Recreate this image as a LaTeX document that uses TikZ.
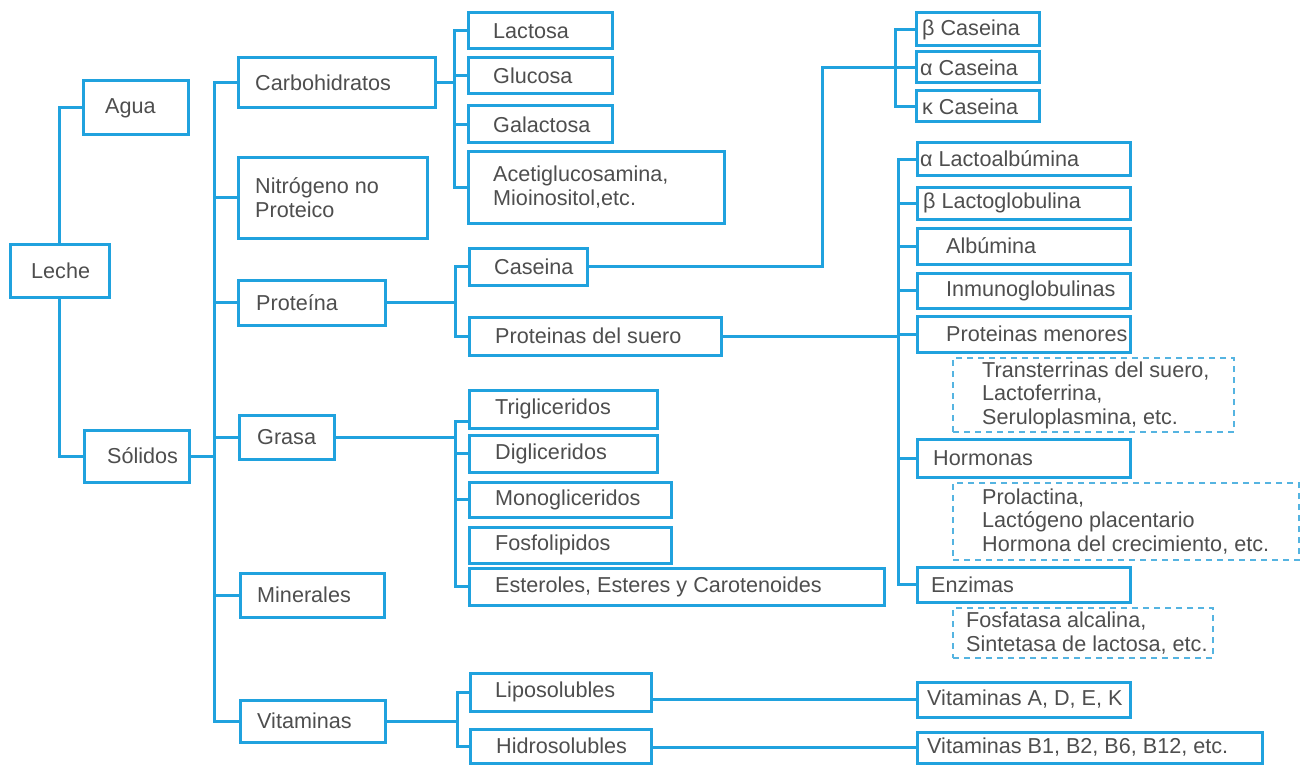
\documentclass[tikz,border=0pt]{standalone}
\usepackage{fontspec}
\setmainfont{Liberation Sans}
\definecolor{lineblue}{RGB}{32,162,222}
\definecolor{dashblue}{RGB}{85,180,225}
\definecolor{txtgray}{RGB}{78,78,78}
\newcommand\mkbox[8]{%
  \pgfmathsetmacro\mkW{#5-#3}\pgfmathsetmacro\mkH{#6-#4}%
  \node[#2, minimum width=\mkW pt, minimum height=\mkH pt, anchor=north west] (#1) at (#3,#4) {};
  \node[txt, anchor=west] (#1-t) at ([xshift=#7pt]#1.west) {#8};}
\begin{document}
\begin{tikzpicture}[x=1pt,y=-1pt,
  box/.style={draw=lineblue, line width=3pt, rectangle, inner sep=0pt, outer sep=0pt},
  dbox/.style={draw=dashblue, line width=2.2pt, dash pattern=on 6pt off 5pt, rectangle, inner sep=0pt, outer sep=0pt},
  txt/.style={text=txtgray, font=\fontsize{21.6}{23.5}\selectfont, align=left, inner sep=0pt},
  conn/.style={draw=lineblue, line width=3pt}]
\useasboundingbox (0,0) rectangle (1306,765);
\fill[white] (0,0) rectangle (1306,765);

\mkbox{leche}{box}{10}{244}{109}{297}{21}{Leche}
\mkbox{agua}{box}{83}{81}{188}{135}{22}{Agua}
\mkbox{sol}{box}{84}{430}{189}{482}{23}{Sólidos}
\mkbox{carb}{box}{238}{58}{435}{108}{17}{Carbohidratos}
\mkbox{nit}{box}{238}{157}{427}{238}{17}{Nitrógeno no\\Proteico}
\mkbox{prot}{box}{238}{280}{385}{325}{18}{Proteína}
\mkbox{gra}{box}{239}{415}{334}{459}{18}{Grasa}
\mkbox{min}{box}{240}{573}{384}{617}{17}{Minerales}
\mkbox{vit}{box}{240}{700}{385}{742}{17}{Vitaminas}
\mkbox{lac}{box}{468}{13}{612}{49}{25}{Lactosa}
\mkbox{glu}{box}{468}{58}{612}{94}{25}{Glucosa}
\mkbox{gal}{box}{468}{106}{612}{143}{25}{Galactosa}
\mkbox{ace}{box}{468}{151}{724}{223}{25}{Acetiglucosamina,\\Mioinositol,etc.}
\mkbox{cas}{box}{469}{248}{587}{285}{25}{Caseina}
\mkbox{sue}{box}{469}{317}{721}{355}{26}{Proteinas del suero}
\mkbox{tri}{box}{469}{390}{657}{428}{26}{Trigliceridos}
\mkbox{dig}{box}{469}{435}{657}{472}{26}{Digliceridos}
\mkbox{mon}{box}{469}{482}{671}{517}{26}{Monogliceridos}
\mkbox{fos}{box}{469}{527}{671}{563}{26}{Fosfolipidos}
\mkbox{est}{box}{469}{568}{884}{605}{26}{Esteroles, Esteres y Carotenoides}
\mkbox{lip}{box}{470}{673}{651}{711}{25}{Liposolubles}
\mkbox{hid}{box}{470}{729}{651}{763}{26}{Hidrosolubles}
\mkbox{bcas}{box}{916}{13}{1039}{46}{6}{β Caseina}
\mkbox{acas}{box}{916}{52}{1039}{83}{4}{α Caseina}
\mkbox{kcas}{box}{916}{91}{1039}{122}{6}{κ Caseina}
\mkbox{lalb}{box}{917}{143}{1130}{175}{3}{α Lactoalbúmina}
\mkbox{lglo}{box}{917}{187}{1130}{219}{6}{β Lactoglobulina}
\mkbox{alb}{box}{917}{228}{1130}{264}{29}{Albúmina}
\mkbox{inm}{box}{917}{273}{1130}{308}{29}{Inmunoglobulinas}
\mkbox{pmen}{box}{917}{316}{1130}{352}{29}{Proteinas menores}
\mkbox{dtra}{dbox}{953}{358}{1234}{432}{29}{Transterrinas del suero,\\Lactoferrina,\\Seruloplasmina, etc.}
\mkbox{hor}{box}{917}{439}{1130}{477}{16}{Hormonas}
\mkbox{dpro}{dbox}{953}{483}{1299}{560}{29}{Prolactina,\\Lactógeno placentario\\Hormona del crecimiento, etc.}
\mkbox{enz}{box}{917}{567}{1130}{602}{14}{Enzimas}
\mkbox{denz}{dbox}{953}{608}{1213}{658}{13}{Fosfatasa alcalina,\\Sintetasa de lactosa, etc.}
\mkbox{vita}{box}{917}{682}{1130}{717}{10}{Vitaminas A, D, E, K}
\mkbox{vitb}{box}{917}{732}{1262}{763}{10}{Vitaminas B1, B2, B6, B12, etc.}

\coordinate (xL) at (214,0);
\coordinate (xC) at (454,0);
\coordinate (xP) at (455,0);
\coordinate (xG) at (455,0);
\coordinate (xV) at (457,0);
\coordinate (xK) at (822,0);
\coordinate (xB) at (895,0);
\coordinate (xS) at (898,0);

% Leche
\draw[conn] (agua.west) -| (leche.north);
\draw[conn] (leche.south) |- (sol.west);
\draw[conn] (sol.east) -- (sol.east -| xL);
\draw[conn] (carb.west) -| (xL |- vit.west) -- (vit.west);
\draw[conn] (nit.west) -- (nit.west -| xL);
\draw[conn] (prot.west) -- (prot.west -| xL);
\draw[conn] (gra.west) -- (gra.west -| xL);
\draw[conn] (min.west) -- (min.west -| xL);
% Carbohidratos
\draw[conn] (carb.east) -- (carb.east -| xC);
\draw[conn] (lac.west) -| (xC |- ace.west) -- (ace.west);
\draw[conn] (glu.west) -- (glu.west -| xC);
\draw[conn] (gal.west) -- (gal.west -| xC);
% Proteina
\draw[conn] (prot.east) -- (prot.east -| xP);
\draw[conn] (cas.west) -| (xP |- sue.west) -- (sue.west);
\draw[conn] (cas.east) -| (xK |- acas.west) -- (acas.west);
\draw[conn] (bcas.west) -| (xB |- kcas.west) -- (kcas.west);
\draw[conn] (sue.east) -- (sue.east -| xS);
\draw[conn] (lalb.west) -| (xS |- enz.west) -- (enz.west);
\draw[conn] (lglo.west) -- (lglo.west -| xS);
\draw[conn] (alb.west) -- (alb.west -| xS);
\draw[conn] (inm.west) -- (inm.west -| xS);
\draw[conn] (pmen.west) -- (pmen.west -| xS);
\draw[conn] (hor.west) -- (hor.west -| xS);
% Grasa
\draw[conn] (gra.east) -- (gra.east -| xG);
\draw[conn] ([yshift=-12pt]tri.west) -| (xG |- est.west) -- (est.west);
\draw[conn] (dig.west) -- (dig.west -| xG);
\draw[conn] (mon.west) -- (mon.west -| xG);
% Vitaminas
\draw[conn] (vit.east) -- (vit.east -| xV);
\draw[conn] (lip.west) -| (xV |- hid.west) -- (hid.west);
\draw[conn] (lip.east |- vita.west) -- (vita.west);
\draw[conn] (hid.east |- vitb.west) -- (vitb.west);
\end{tikzpicture}
\end{document}
